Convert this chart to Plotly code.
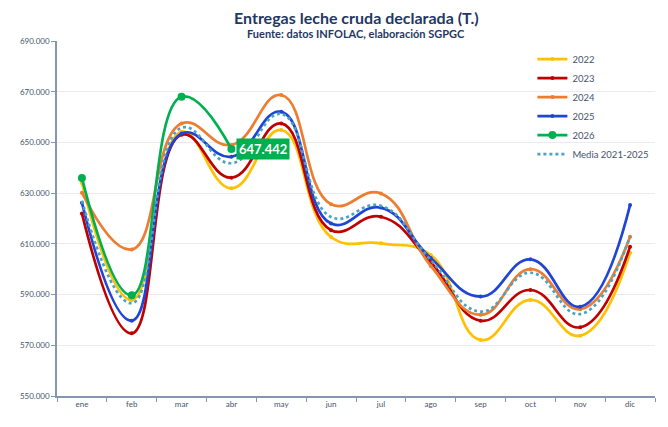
import plotly.graph_objects as go

months = ["ene", "feb", "mar", "abr", "may", "jun", "jul", "ago", "sep", "oct", "nov", "dic"]

y2022 = [634000, 587900, 654200, 631900, 654900, 612700, 610200, 605600, 572100, 587900, 573800, 606500]
y2023 = [622000, 574700, 653000, 636100, 657500, 615400, 620700, 602800, 579700, 591800, 577100, 608900]
y2024 = [630200, 607800, 657500, 649000, 668700, 625600, 629900, 601300, 582000, 600000, 584200, 612800]
y2025 = [626200, 579700, 653500, 644400, 662100, 618000, 624300, 604400, 589200, 603900, 585200, 625300]
y2026 = [636000, 589700, 668000, 647442]
media = [627000, 586600, 655800, 641800, 661200, 620600, 625000, 603600, 583300, 598600, 582300, 613000]

title_text = "Entregas leche cruda declarada (T.)"
subtitle_text = "Fuente: datos INFOLAC, elaboración SGPGC"
label_text = "647.442"

series = [
    ("2022", y2022, "#FFC000"),
    ("2023", y2023, "#C00000"),
    ("2024", y2024, "#ED7D31"),
    ("2025", y2025, "#1F45D4"),
]

SM = 1.3

fig = go.Figure()
for name, vals, col in series:
    fig.add_trace(go.Scatter(
        x=months[:len(vals)], y=vals, name=name, mode="lines+markers",
        line=dict(color=col, width=2.7, shape="spline", smoothing=SM),
        marker=dict(size=4, color=col),
    ))
fig.add_trace(go.Scatter(
    x=months[:len(y2026)], y=y2026, name="2026", mode="lines+markers",
    line=dict(color="#00B050", width=2.7, shape="spline", smoothing=SM),
    marker=dict(size=8, color="#00B050"),
))
fig.add_trace(go.Scatter(
    x=months, y=media, name="Media 2021-2025", mode="lines",
    line=dict(color="#4BA3C3", width=2.7, dash="dot", shape="spline", smoothing=SM),
))

fig.add_annotation(
    x="abr", y=y2026[-1], text="<b>" + label_text + "</b>", showarrow=False,
    xanchor="left", yanchor="middle", xshift=5,
    bgcolor="#00B050", font=dict(color="white", size=13, family="Lato"),
    borderpad=2,
)
fig.add_annotation(
    xref="paper", yref="paper", x=0.5, y=1.066, xanchor="center", yanchor="middle",
    text="<b>" + title_text + "</b>", showarrow=False,
    font=dict(size=16, color="#1F3864", family="Lato"),
)
fig.add_annotation(
    xref="paper", yref="paper", x=0.5, y=1.021, xanchor="center", yanchor="middle",
    text="<b>" + subtitle_text + "</b>", showarrow=False,
    font=dict(size=11, color="#1F3864", family="Lato"),
)

axis_col = "#8496B0"
tick_font = dict(size=8, color="#44546A", family="Lato")

fig.update_layout(
    width=660, height=419,
    margin=dict(l=49, r=13, t=33, b=31),
    paper_bgcolor="white", plot_bgcolor="white",
    separators=",.",
    font=dict(family="Lato", color="#44546A"),
    xaxis=dict(
        type="category", categoryorder="array", categoryarray=months,
        range=[-0.5, 11.5], showline=True, linecolor=axis_col, linewidth=1.5,
        ticks="outside", tickson="boundaries", ticklen=4, tickcolor=axis_col,
        tickfont=tick_font, showgrid=False, zeroline=False,
    ),
    yaxis=dict(
        range=[550000, 690000], tick0=550000, dtick=20000, tickformat=",.0f",
        showline=True, linecolor=axis_col, linewidth=1.5,
        ticks="outside", ticklen=4, tickcolor=axis_col,
        tickfont=tick_font, showgrid=True, gridcolor="#EBEBEF", gridwidth=1,
        zeroline=False,
    ),
    legend=dict(
        x=0.795, y=0.99, xanchor="left", yanchor="top",
        bgcolor="rgba(255,255,255,0)", font=dict(size=9.5, color="#44546A", family="Lato"),
        itemwidth=30, tracegroupgap=0,
    ),
)

fig.write_html("out.html")
